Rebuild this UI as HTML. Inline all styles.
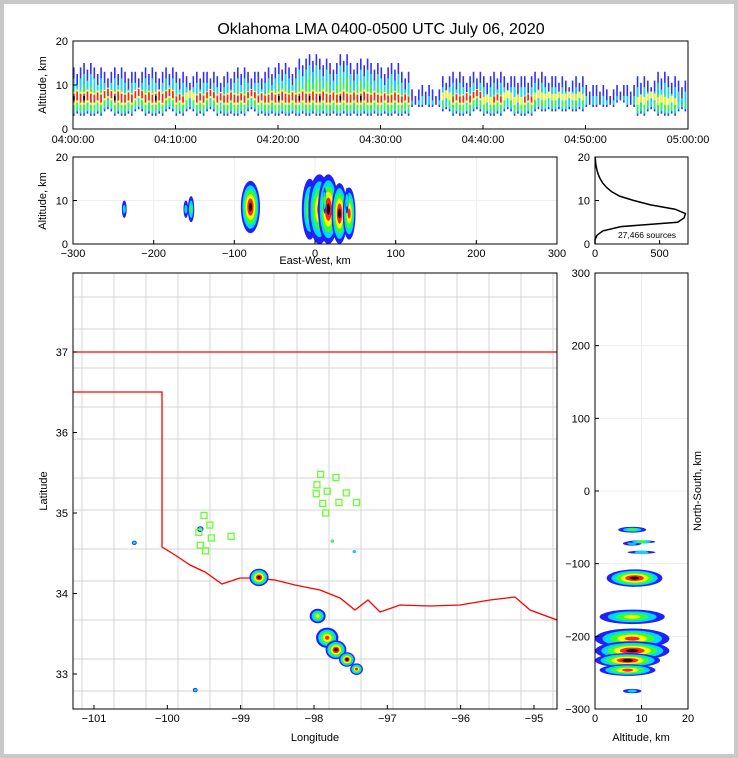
<!DOCTYPE html>
<html><head><meta charset="utf-8">
<style>
html,body{margin:0;padding:0;background:#c8c8c8;}
svg{display:block;font-family:"Liberation Sans",sans-serif;}
</style></head>
<body>
<svg id="chart" width="738" height="758" viewBox="0 0 738 758">
<rect x="4" y="4" width="730" height="750" fill="#ffffff"/>
<text x="381" y="34" font-size="16" text-anchor="middle">Oklahoma LMA 0400-0500 UTC July 06, 2020</text>
<defs>
<clipPath id="cTop"><rect x="73" y="41" width="615" height="88"/></clipPath>
<clipPath id="cMid"><rect x="73" y="157" width="484" height="87"/></clipPath>
<clipPath id="cMap"><rect x="73" y="273" width="484" height="436"/></clipPath>
<clipPath id="cRight"><rect x="595" y="273" width="93" height="436"/></clipPath>
</defs>
<g id="layer"></g>
</svg>
<script>
// ---- data ----
const minuteLo = [3,3,3,4,3,3,4,3,3,4, 3,4,3,4,3,3,3,4,3,3, 3,3,3,3,3,3,3,3,3,3, 3,3,3,5,5,5, 4,3,3,4,3,3,4,3,3,4, 4,4,4,4, 5,5,5,6,5, 3,4,3,3,4];
const minuteHi = [14,15,14,13,14,13,13,14,13,14, 13,12,13,13,12,13,14,13,13,14, 15,14,16,17,16,15,17,15,16,15, 14,15,13,9,10,9, 12,13,12,13,12,13,12,12,12,13, 12,12,11,12, 10,10,9,10,10, 12,11,13,12,11];
const minuteCore = [1,1,.9,.8,1,.9,.8,.9,1,.8, .7,.6,.8,.7,.8,.9,.8,.7,.8,.9, 1,.9,1,1,1,.9,1,.9,1,.9, .8,.9,.7,.3,.4,.3, .6,.7,.8,.7,.6,.7,.6,.6,.7,.6, .5,.5,.5,.5, .3,.3,.2,.3,.3, .6,.5,.6,.5,.4];
const histAlt = [0,1,2,3,4,5,6,7,8,9,10,11,12,13,14,15,16,17,18,19,20];
const histCount = [0,0,15,60,200,640,690,700,620,430,300,190,130,90,60,40,25,15,8,4,1];
const clLon = [-98.75,-97.95,-97.82,-97.70,-97.55,-97.42,-99.55,-100.45,-97.45,-97.75,-99.62];
const clLat = [34.20,33.72,33.45,33.30,33.18,33.06,34.80,34.63,34.52,34.65,32.80];
const clRad = [12,10,14,13,10,8,4,3,2,2,3];
const clAltC = [8.5,8,8,8,7,7,8,8,10,10,8];
const clAltR = [6,7,8,8,7,6,3,2,3,3,2];
const clLevel = [6,4,5,6,6,5,3,2,2,3,2];
const stLon = [-99.50,-99.42,-99.57,-99.40,-99.55,-99.48,-99.13,-97.91,-97.70,-97.96,-97.82,-97.97,-97.56,-97.88,-97.66,-97.84,-97.42];
const stLat = [34.97,34.85,34.76,34.69,34.60,34.53,34.71,35.48,35.44,35.35,35.27,35.24,35.25,35.12,35.13,35.00,35.13];
const timeTicks = ["04:00:00","04:10:00","04:20:00","04:30:00","04:40:00","04:50:00","05:00:00"];
const ewTicks = [-300,-200,-100,0,100,200,300];
const nsTicks = [300,200,100,0,-100,-200,-300];
const lonTicks = [-101,-100,-99,-98,-97,-96,-95];
const latTicks = [33,34,35,36,37];
const altTicks = [0,10,20];
const histTicks = [0,500];
const centerLon = -97.88, centerLat = 35.28;

// ---- scales ----
const tX = m => 73 + m*615/60;
const tY = a => 129 - a*88/20;
const ewX = k => 73 + (k+300)*484/600;
const mAltY = a => 244 - a*87/20;
const hX = c => 595 + c*93/720;
const lonX = l => 94 + (l+101)*73.33;
const latY = l => 352 - (l-37)*80.5;
const rAltX = a => 595 + a*93/20;
const nsY = k => 491 - k*436/600;
const toEW = l => (l-centerLon)*92;
const toNS = l => (l-centerLat)*111;

const NS='http://www.w3.org/2000/svg';
const layer=document.getElementById('layer');
function mk(tag,attrs,parent){const e=document.createElementNS(NS,tag);for(const k in attrs)e.setAttribute(k,attrs[k]);(parent||layer).appendChild(e);return e;}
function txt(x,y,s,size,anchor,rot){const e=mk('text',{x:x,y:y,'font-size':size,'text-anchor':anchor||'middle'});if(rot)e.setAttribute('transform','rotate(-90 '+x+' '+y+')');e.textContent=s;return e;}
const ringColors=['#2020ff','#00d8ff','#30ff30','#ffff00','#ff2020','#200000'];

// ---- top panel ----
const gTop=mk('g',{'clip-path':'url(#cTop)'});


for(let i=0;i<minuteLo.length;i++){
  for(let s=0;s<3;s++){
    const x=tX(i)+s*3.4;
    const lo=minuteLo[i]+(s%2)*0.5, hi=minuteHi[i]-(s===1?1.5:0);
    const c=minuteCore[i];
    const bands=[[lo,hi,'#3030ff'],[lo+0.5,hi-2.5,'#00e0ff'],[lo+1,hi-5,'#30ff30']];
    if(c>0.4)bands.push([lo+2.5,lo+2.5+3*c,'#ffff00']);
    if(c>0.6)bands.push([lo+3,lo+3+2*c,'#ff2020']);
    if(c>0.95&&s===0)bands.push([lo+3.5,lo+4.5,'#000000']);
    bands.forEach(b=>{if(b[1]>b[0]){const r=mk('rect',{x:x,y:tY(b[1]),width:1.6,height:tY(b[0])-tY(b[1]),fill:b[2]},gTop);
      }});
  }
}
mk('rect',{x:73,y:41,width:615,height:88,fill:'none',stroke:'#000'});
[0,10,20].forEach(a=>{mk('line',{x1:73,x2:77,y1:tY(a),y2:tY(a),stroke:'#000'});txt(68,tY(a)+4,a,11,'end');});
timeTicks.forEach((t,i)=>{const x=tX(i*10);mk('line',{x1:x,x2:x,y1:129,y2:125,stroke:'#000'});const e=txt(x,143,t,11);});
txt(46,85,'Altitude, km',11,'middle',true);

// ---- middle panel ----
const gMid=mk('g',{'clip-path':'url(#cMid)'});


ewTicks.forEach(k=>mk('line',{x1:ewX(k),x2:ewX(k),y1:157,y2:244,stroke:'#eee'},gMid));
[0,10,20].forEach(a=>mk('line',{x1:73,x2:557,y1:mAltY(a),y2:mAltY(a),stroke:'#eee'},gMid));
// ---- map ----
const gMap=mk('g',{'clip-path':'url(#cMap)'});


for(let x=80;x<560;x+=31){const o=(x*7)%9;mk('line',{x1:x+o,x2:x+o,y1:273,y2:709,stroke:'#d4d4d4','stroke-width':1},gMap);}
for(let y=293;y<709;y+=36){const o=(y*3)%7;mk('line',{x1:73,x2:557,y1:y+o,y2:y+o,stroke:'#d4d4d4','stroke-width':1},gMap);}
const bord=mk('polyline',{points:'73,352 557,352',fill:'none',stroke:'#ff0000','stroke-width':1.3},gMap);


const ok=mk('polyline',{points:'73,392 162,392 162,547 175,555 190,565 205,572 222,584 240,578 255,578 275,580 295,585 320,590 340,598 355,610 368,600 380,612 400,605 430,606 460,605 490,600 515,597 530,610 557,620',fill:'none',stroke:'#ff0000','stroke-width':1.3},gMap);


// ---- right panel ----
const gR=mk('g',{'clip-path':'url(#cRight)'});


nsTicks.forEach(k=>mk('line',{x1:595,x2:688,y1:nsY(k),y2:nsY(k),stroke:'#eee'},gR));
altTicks.forEach(a=>mk('line',{x1:rAltX(a),x2:rAltX(a),y1:273,y2:709,stroke:'#eee'},gR));

for(let i=0;i<clLon.length;i++){
  const ew=toEW(clLon[i]), ns=toNS(clLat[i]);
  for(let r=0;r<clLevel[i];r++){
    const f=1-r/clLevel[i];
    const col=ringColors[r];
    const e1=mk('ellipse',{cx:lonX(clLon[i]),cy:latY(clLat[i]),rx:Math.max(1.5,clRad[i]*0.8*f),ry:Math.max(1.5,clRad[i]*0.725*f),fill:col},gMap);
    
    const e2=mk('ellipse',{cx:ewX(ew),cy:mAltY(clAltC[i]),rx:Math.max(1.5,clRad[i]*0.8*f),ry:Math.max(1.5,clAltR[i]*4.35*f),fill:col},gMid);
    
    const e3=mk('ellipse',{cx:rAltX(clAltC[i]),cy:nsY(ns),rx:Math.max(1.5,clAltR[i]*4.65*f),ry:Math.max(1.5,clRad[i]*0.725*f),fill:col},gR);
    
  }
}
for(let i=0;i<stLon.length;i++){
  const s=mk('rect',{x:lonX(stLon[i])-3,y:latY(stLat[i])-3,width:6,height:6,fill:'none',stroke:'#66ff33','stroke-width':1.3},gMap);
  
}
mk('rect',{x:73,y:157,width:484,height:87,fill:'none',stroke:'#000'});
ewTicks.forEach(k=>{mk('line',{x1:ewX(k),x2:ewX(k),y1:244,y2:240,stroke:'#000'});txt(ewX(k),257,k<0?'\u2212'+(-k):k,11);});
[0,10,20].forEach(a=>{mk('line',{x1:73,x2:77,y1:mAltY(a),y2:mAltY(a),stroke:'#000'});txt(68,mAltY(a)+4,a,11,'end');});
txt(315,264,'East-West, km',11);
txt(46,201,'Altitude, km',11,'middle',true);

mk('rect',{x:595,y:157,width:93,height:87,fill:'none',stroke:'#000'});
const hp=histAlt.map((a,i)=>hX(histCount[i])+','+mAltY(a)).join(' ');
const hl=mk('polyline',{points:hp,fill:'none',stroke:'#000','stroke-width':1.5});

histTicks.forEach(c=>{mk('line',{x1:hX(c),x2:hX(c),y1:244,y2:240,stroke:'#000'});txt(hX(c),257,c,11);});
[0,10,20].forEach(a=>{mk('line',{x1:595,x2:599,y1:mAltY(a),y2:mAltY(a),stroke:'#000'});txt(590,mAltY(a)+4,a,11,'end');});
txt(647,238,'27,466 sources',8.5);

mk('rect',{x:73,y:273,width:484,height:436,fill:'none',stroke:'#000'});
lonTicks.forEach(l=>{mk('line',{x1:lonX(l),x2:lonX(l),y1:709,y2:705,stroke:'#000'});txt(lonX(l),722,'\u2212'+(-l),11);});
latTicks.forEach(l=>{mk('line',{x1:73,x2:77,y1:latY(l),y2:latY(l),stroke:'#000'});txt(68,latY(l)+4,l,11,'end');});
txt(315,741,'Longitude',11);
txt(47,491,'Latitude',11,'middle',true);

mk('rect',{x:595,y:273,width:93,height:436,fill:'none',stroke:'#000'});
nsTicks.forEach(k=>{mk('line',{x1:595,x2:599,y1:nsY(k),y2:nsY(k),stroke:'#000'});txt(590,nsY(k)+4,k<0?'\u2212'+(-k):k,11,'end');});
altTicks.forEach(a=>{mk('line',{x1:rAltX(a),x2:rAltX(a),y1:709,y2:705,stroke:'#000'});txt(rAltX(a),722,a,11);});
txt(641,741,'Altitude, km',11);
txt(701,491,'North-South, km',11,'middle',true);
</script>
</body></html>
